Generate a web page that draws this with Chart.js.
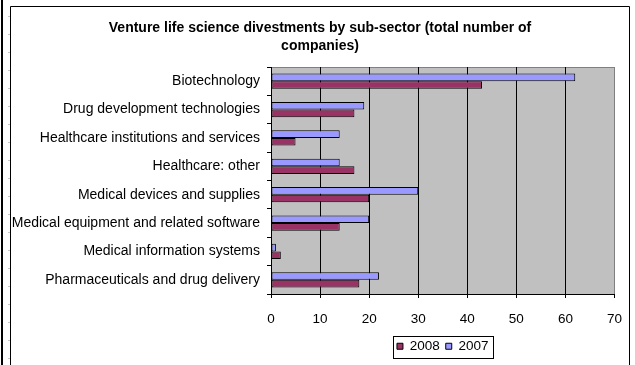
<!DOCTYPE html>
<html>
<head>
<meta charset="utf-8">
<title>Venture life science divestments</title>
<script src="https://cdn.jsdelivr.net/npm/chart.js@4/dist/chart.umd.min.js"></script>
<style>
  html, body { margin: 0; padding: 0; background: #fff; }
  #wrap { width: 635px; height: 365px; }
</style>
</head>
<body>
<div id="wrap"><canvas id="divestments-chart" width="635" height="365"></canvas></div>
<script>
// sub-sectors, top to bottom
const categories = [
    'Biotechnology',
    'Drug development technologies',
    'Healthcare institutions and services',
    'Healthcare: other',
    'Medical devices and supplies',
    'Medical equipment and related software',
    'Medical information systems',
    'Pharmaceuticals and drug delivery'
];
const values2007 = [62, 19, 14, 14, 30, 20, 1, 22];
const values2008 = [43, 17, 5, 17, 20, 14, 2, 18];
const xTicks = [0, 10, 20, 30, 40, 50, 60, 70];

const titleLines = [
    'Venture life science divestments by sub-sector (total number of',
    'companies)'
];

Chart.defaults.font.family = "'Liberation Sans', Arial, sans-serif";
Chart.defaults.font.size = 13.5;
Chart.defaults.color = '#000';

// worksheet edge, chart border, grey plot area and the box round the legend
const sheetFrame = {
    id: 'sheetFrame',
    beforeDraw(chart) {
        const { ctx, chartArea: a, width, height } = chart;
        ctx.save();
        ctx.fillStyle = '#fff';
        ctx.fillRect(0, 0, width, height);

        ctx.fillStyle = '#000';
        ctx.fillRect(1, 0, 2, height);
        ctx.fillStyle = '#c8c8c8';
        for (let y = 16; y < height; y += 18) ctx.fillRect(8, y, 2, 1);

        ctx.strokeStyle = '#000';
        ctx.lineWidth = 1;
        ctx.beginPath();
        ctx.moveTo(10.5, height);
        ctx.lineTo(10.5, 6.5);
        ctx.lineTo(629.5, 6.5);
        ctx.lineTo(629.5, height);
        ctx.stroke();

        ctx.fillStyle = '#c0c0c0';
        ctx.fillRect(a.left, a.top, a.width, a.height);
        ctx.strokeStyle = '#808080';
        ctx.strokeRect(Math.round(a.left) + 0.5, Math.round(a.top) + 0.5, Math.round(a.width), Math.round(a.height));
        ctx.restore();
    },
    afterDraw(chart) {
        const boxes = chart.legend && chart.legend.legendHitBoxes;
        if (!boxes || !boxes.length) return;
        const left = Math.min(...boxes.map(b => b.left)) - 4;
        const right = Math.max(...boxes.map(b => b.left + b.width)) + 4;
        const top = boxes[0].top - 4;
        const bottom = boxes[0].top + boxes[0].height + 4;
        const ctx = chart.ctx;
        ctx.save();
        ctx.strokeStyle = '#000';
        ctx.lineWidth = 1;
        ctx.strokeRect(Math.round(left) + 0.5, Math.round(top) + 0.5, Math.round(right - left), Math.round(bottom - top));
        ctx.restore();
    }
};

new Chart(document.getElementById('divestments-chart'), {
    type: 'bar',
    data: {
        labels: categories,
        datasets: [
            {
                label: '2007',
                data: values2007,
                backgroundColor: '#9999ff',
                borderColor: '#000',
                borderWidth: 1,
                borderSkipped: false
            },
            {
                label: '2008',
                data: values2008,
                backgroundColor: '#993366',
                borderColor: '#000',
                borderWidth: 1,
                borderSkipped: false
            }
        ]
    },
    options: {
        indexAxis: 'y',
        responsive: false,
        animation: false,
        layout: { padding: { left: 12, right: 7, top: 0, bottom: 2 } },
        datasets: { bar: { categoryPercentage: 0.54, barPercentage: 1 } },
        scales: {
            y: {
                afterFit: scale => { scale.width = 259; },
                ticks: { padding: 7, color: '#000', autoSkip: false, font: { size: 14 } },
                grid: { drawOnChartArea: false, tickColor: '#000', tickLength: 4 },
                border: { color: '#000' }
            },
            // empty strip between the plot and the right-hand border
            rightGap: {
                type: 'category',
                position: 'right',
                afterFit: scale => { scale.width = 12; },
                ticks: { display: false },
                grid: { display: false },
                border: { display: false }
            },
            x: {
                min: 0,
                max: 70,
                afterBuildTicks: scale => { scale.ticks = xTicks.map(v => ({ value: v })); },
                afterFit: scale => { scale.height = 39.5; },
                ticks: { padding: 13, color: '#000' },
                grid: {
                    color: ctx => (ctx.tick && ctx.tick.value === 70 ? '#808080' : '#000'),
                    tickColor: '#000',
                    tickLength: 4
                },
                border: { color: '#000' }
            }
        },
        plugins: {
            title: {
                display: true,
                text: titleLines,
                color: '#000',
                font: { size: 14, weight: 'bold', lineHeight: 1.3 },
                padding: { top: 19, bottom: 11.6 }
            },
            legend: {
                position: 'bottom',
                fullSize: false,
                reverse: true,
                labels: { boxWidth: 6, boxHeight: 6, padding: 6, color: '#000' }
            },
            tooltip: { enabled: false }
        }
    },
    plugins: [sheetFrame]
});
</script>
</body>
</html>
